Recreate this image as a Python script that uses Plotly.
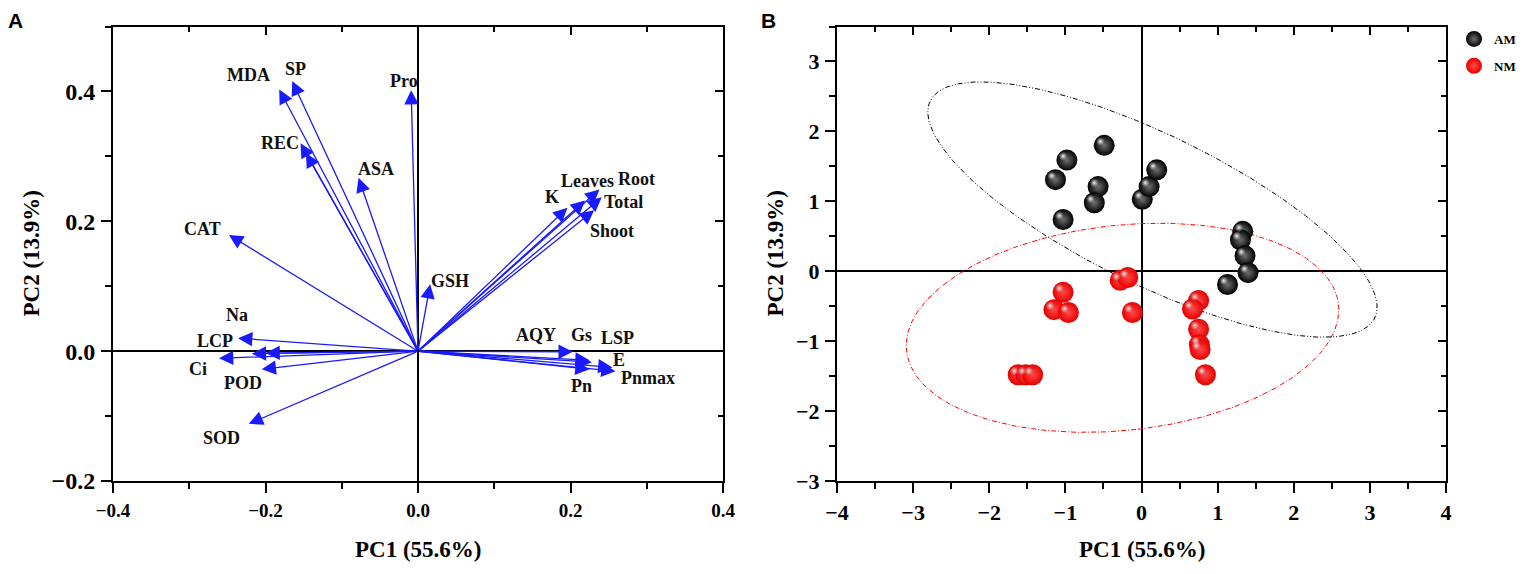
import numpy as np
import plotly.graph_objects as go

# ---------------- panel A: loadings ----------------
load_names = ['MDA', 'SP', 'REC', '', 'Pro', 'ASA', 'CAT', 'GSH',
              'K', 'Leaves', 'Root', 'Total', 'Shoot',
              'AQY', 'Gs', 'LSP', 'E', 'Pnmax', 'Pn',
              'LCP', 'Na', '', 'Ci', 'POD', 'SOD']
load_pc1 = [-0.182, -0.165, -0.154, -0.147, -0.009, -0.078, -0.248, 0.016,
            0.196, 0.219, 0.238, 0.241, 0.231,
            0.203, 0.225, 0.228, 0.255, 0.259, 0.225,
            -0.236, -0.218, -0.200, -0.261, -0.205, -0.222]
load_pc2 = [0.403, 0.416, 0.320, 0.305, 0.402, 0.267, 0.179, 0.103,
            0.221, 0.232, 0.249, 0.237, 0.217,
            -0.001, -0.014, -0.017, -0.025, -0.031, -0.028,
            0.020, -0.004, -0.003, -0.011, -0.028, -0.112]

# where each variable name is written (data coords)
label_pos = {
    'MDA': (-0.222, 0.426), 'SP': (-0.161, 0.435), 'Pro': (-0.019, 0.416),
    'REC': (-0.181, 0.320), 'ASA': (-0.055, 0.281), 'CAT': (-0.282, 0.188),
    'K': (0.176, 0.238), 'Leaves': (0.222, 0.262), 'Root': (0.286, 0.265),
    'Total': (0.270, 0.229), 'Shoot': (0.254, 0.185), 'GSH': (0.042, 0.108),
    'Na': (-0.238, 0.056), 'LCP': (-0.266, 0.016), 'Ci': (-0.288, -0.028),
    'POD': (-0.229, -0.049), 'SOD': (-0.258, -0.134), 'AQY': (0.155, 0.025),
    'Gs': (0.215, 0.025), 'LSP': (0.261, 0.020), 'E': (0.263, -0.014),
    'Pnmax': (0.301, -0.042), 'Pn': (0.215, -0.054),
}

# ---------------- panel B: scores ----------------
am_pc1 = [-0.49, -0.98, -1.13, -0.57, -0.62, -1.03, 0.01, 0.10, 0.20,
          1.33, 1.30, 1.36, 1.40, 1.13]
am_pc2 = [1.80, 1.59, 1.31, 1.21, 0.98, 0.74, 1.03, 1.21, 1.45,
          0.57, 0.45, 0.22, -0.02, -0.19]
nm_pc1 = [-0.28, -0.18, -1.03, -1.15, -0.96, -0.12, -1.62, -1.52, -1.43,
          0.75, 0.67, 0.75, 0.76, 0.77, 0.84]
nm_pc2 = [-0.13, -0.09, -0.30, -0.55, -0.59, -0.59, -1.48, -1.48, -1.48,
          -0.42, -0.54, -0.83, -1.05, -1.12, -1.48]

SERIF = 'Liberation Serif'
BLUE = '#1a1aff'
W, H = 1535, 574
OFF = 8   # the page body margin pushes the figure 8px right/down


def px_x(px):
    return (px - OFF) / W


def px_y(py):
    return 1 - (py - OFF) / H


def pred_ellipse(x, y, level=0.95, npts=300):
    # 95% prediction ellipse of the group
    x = np.asarray(x, float)
    y = np.asarray(y, float)
    n = len(x)
    cov = np.cov(x, y)
    f = (n - 2) / 2 * ((1 - level) ** (-2 / (n - 2)) - 1)   # F(2, n-2) quantile
    c2 = 2 * (n - 1) * (n + 1) / (n * (n - 2)) * f
    vals, vecs = np.linalg.eigh(cov)
    t = np.linspace(0, 2 * np.pi, npts)
    circ = np.vstack([np.cos(t), np.sin(t)])
    pts = vecs @ (np.sqrt(vals * c2)[:, None] * circ)
    return x.mean() + pts[0], y.mean() + pts[1]


fig = go.Figure()

# invisible traces so the overlay (inner tick) axes get drawn
fig.add_trace(go.Scatter(x=[None], y=[None], xaxis='x3', yaxis='y3', showlegend=False))
fig.add_trace(go.Scatter(x=[None], y=[None], xaxis='x4', yaxis='y4', showlegend=False))
fig.add_trace(go.Scatter(x=[None], y=[None], xaxis='x', yaxis='y', showlegend=False))

# ellipses
ex, ey = pred_ellipse(am_pc1, am_pc2)
fig.add_trace(go.Scatter(x=ex, y=ey, mode='lines', xaxis='x2', yaxis='y2',
                         line=dict(color='black', width=1, dash='5px,2px,1px,2px,1px,2px'),
                         showlegend=False, hoverinfo='skip'))
ex, ey = pred_ellipse(nm_pc1, nm_pc2)
fig.add_trace(go.Scatter(x=ex, y=ey, mode='lines', xaxis='x2', yaxis='y2',
                         line=dict(color='red', width=1, dash='5px,2px,1px,2px'),
                         showlegend=False, hoverinfo='skip'))

# sphere-like markers: dark body + small highlight up-left
hl_dx, hl_dy = 0.05, 0.055
groups = [('AM', am_pc1, am_pc2, 'black', '#707070', 'rgba(255,255,255,0.95)'),
          ('NM', nm_pc1, nm_pc2, '#e60000', '#ff4a4a', 'rgba(255,235,235,0.95)')]
for name, xs, ys, col, mid, hl in groups:
    fig.add_trace(go.Scatter(
        x=xs, y=ys, mode='markers', name=name, legendgroup=name,
        xaxis='x2', yaxis='y2',
        marker=dict(size=21, color=col, line=dict(width=0),
                    gradient=dict(type='radial', color=mid))))
for name, xs, ys, col, mid, hl in groups:
    fig.add_trace(go.Scatter(
        x=[v - hl_dx for v in xs], y=[v + hl_dy for v in ys], mode='markers',
        xaxis='x2', yaxis='y2', showlegend=False, hoverinfo='skip',
        marker=dict(size=9, color='rgba(200,200,200,0)', line=dict(width=0),
                    gradient=dict(type='radial', color=hl))))

annotations = []
for nm, px, py in zip(load_names, load_pc1, load_pc2):
    annotations.append(dict(x=px, y=py, ax=0, ay=0, xref='x', yref='y',
                            axref='x', ayref='y', text='', showarrow=True,
                            arrowhead=2, arrowsize=2.2, arrowwidth=1.3,
                            arrowcolor=BLUE, standoff=0, startstandoff=0))
for nm, (lx, ly) in label_pos.items():
    annotations.append(dict(x=lx, y=ly, xref='x', yref='y', text=nm, showarrow=False,
                            xanchor='center', yanchor='middle',
                            font=dict(family=SERIF, size=18, color='#111111', weight='bold')))

title_font = dict(family=SERIF, size=23, color='black', weight='bold')
letter_font = dict(family='Liberation Sans', size=21, color='black', weight='bold')
paper_texts = [
    ('A', 15, 20, 0, letter_font),
    ('B', 768, 20, 0, letter_font),
    ('PC1 (55.6%)', 418, 549, 0, title_font),
    ('PC1 (55.6%)', 1141.5, 549, 0, title_font),
    ('PC2 (13.9%)', 31, 253.5, -90, title_font),
    ('PC2 (13.9%)', 775, 253.5, -90, title_font),
]
for txt, tx, ty, ang, fnt in paper_texts:
    annotations.append(dict(x=px_x(tx), y=px_y(ty), xref='paper', yref='paper',
                            text=txt, textangle=ang, showarrow=False,
                            xanchor='center', yanchor='middle', font=fnt))

dom_a = [px_x(113), px_x(723)]
dom_b = [px_x(837), px_x(1446)]
dom_y = [px_y(481), px_y(26.5)]


def main_axis(rng, dtick, mdtick, dom, anchor, fsize, fmt):
    return dict(domain=dom, range=rng, dtick=dtick, tick0=0, tickformat=fmt,
                ticks='outside', ticklen=10, tickwidth=2, tickcolor='black',
                minor=dict(ticks='outside', ticklen=6, tickwidth=1.5,
                           tickcolor='black', dtick=mdtick, showgrid=False),
                showline=True, linewidth=2, linecolor='black', mirror=True,
                zeroline=True, zerolinecolor='black', zerolinewidth=1.8,
                showgrid=False, anchor=anchor, ticklabelstandoff=1,
                automargin=False,
                tickfont=dict(family=SERIF, size=fsize, color='black', weight='bold'))


def inner_axis(rng, dtick, mdtick, dom, anchor, side, over):
    return dict(domain=dom, range=rng, dtick=dtick, tick0=0, ticks='inside',
                ticklen=8, tickwidth=2, tickcolor='black',
                minor=dict(ticks='inside', ticklen=5, tickwidth=1.5,
                           tickcolor='black', dtick=mdtick, showgrid=False),
                showticklabels=False, showline=False, zeroline=False,
                showgrid=False, anchor=anchor, side=side, overlaying=over,
                automargin=False)


fig.update_layout(
    width=W, height=H,
    margin=dict(l=0, r=0, t=0, b=0, autoexpand=False),
    paper_bgcolor='white', plot_bgcolor='white',
    xaxis=main_axis([-0.4, 0.4], 0.2, 0.1, dom_a, 'y', 19, '.1f'),
    yaxis=main_axis([-0.2, 0.5], 0.2, 0.1, dom_y, 'x', 24, '.1f'),
    xaxis2=main_axis([-4, 4], 1, 0.5, dom_b, 'y2', 22, 'd'),
    yaxis2=main_axis([-3, 3.5], 1, 0.5, dom_y, 'x2', 22, 'd'),
    xaxis3=inner_axis([-0.4, 0.4], 0.2, 0.1, dom_a, 'y3', 'top', 'x'),
    yaxis3=inner_axis([-0.2, 0.5], 0.2, 0.1, dom_y, 'x3', 'right', 'y'),
    xaxis4=inner_axis([-4, 4], 1, 0.5, dom_b, 'y4', 'top', 'x2'),
    yaxis4=inner_axis([-3, 3.5], 1, 0.5, dom_y, 'x4', 'right', 'y2'),
    legend=dict(x=px_x(1454), y=px_y(24), xanchor='left', yanchor='top',
                bgcolor='rgba(0,0,0,0)', itemwidth=30, tracegroupgap=7,
                font=dict(family=SERIF, size=13, color='black', weight='bold')),
    annotations=annotations,
    showlegend=True,
)

fig.write_html('out.html')
